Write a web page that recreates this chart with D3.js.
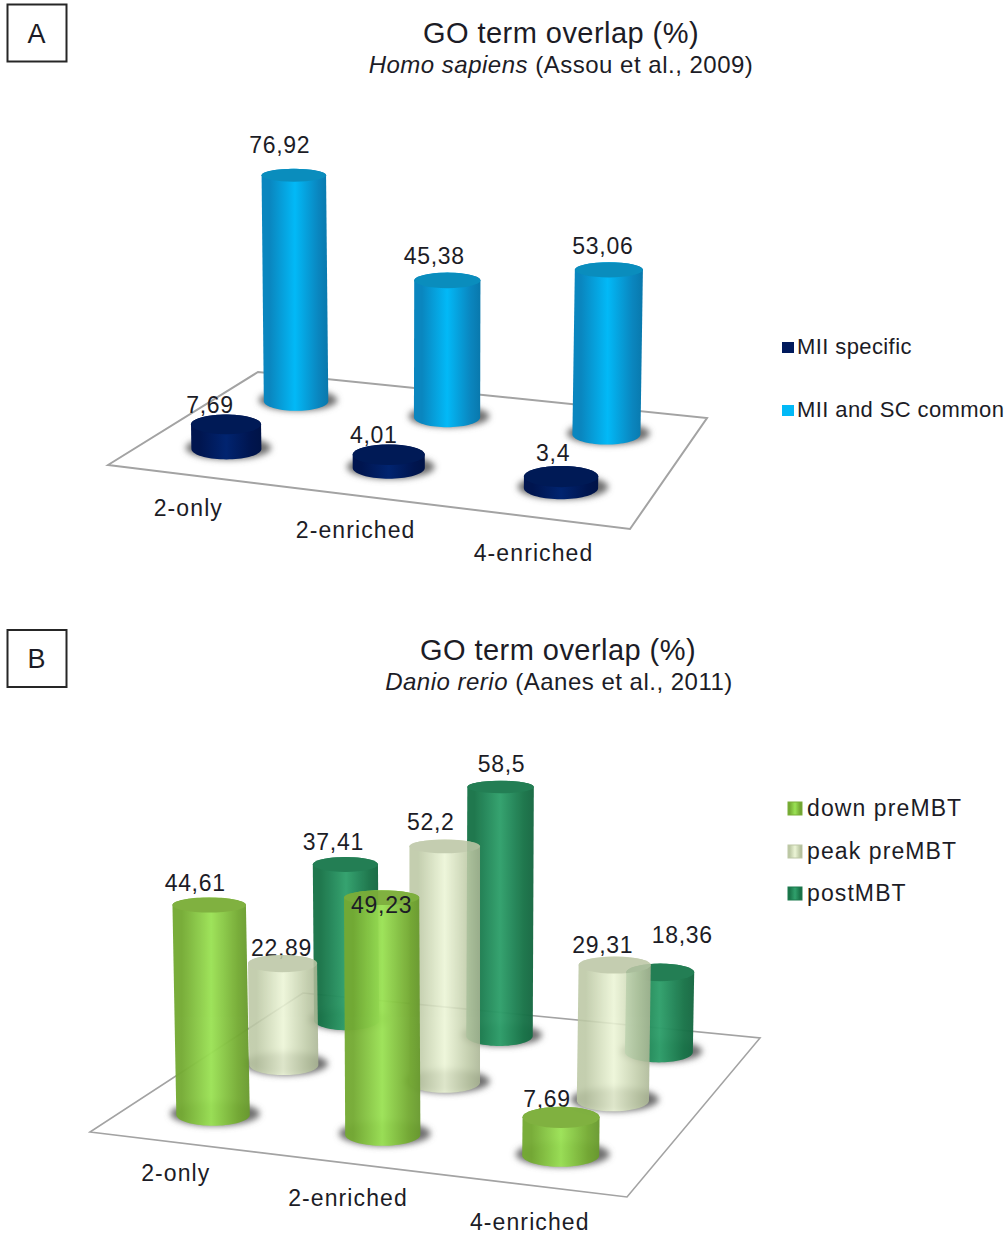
<!DOCTYPE html>
<html>
<head>
<meta charset="utf-8">
<script src="https://cdn.jsdelivr.net/npm/d3@7"></script>
<style>
  html, body { margin: 0; padding: 0; background: #fff; }
  svg { display: block; }
  text { font-family: "Liberation Sans", Arial, sans-serif; fill: #1c1c26; }
</style>
</head>
<body>
<svg id="fig" width="1006" height="1234"></svg>
<script>
// Chart data
const categories = ["2-only", "2-enriched", "4-enriched"];

const seriesHuman = ["MII specific", "MII and SC common"];
const miiSpecific = [7.69, 4.01, 3.4];
const miiScCommon = [76.92, 45.38, 53.06];

const seriesZebrafish = ["down preMBT", "peak preMBT", "postMBT"];
const downPreMBT = [44.61, 49.23, 7.69];
const peakPreMBT = [22.89, 52.2, 29.31];
const postMBT = [37.41, 58.5, 18.36];

const comma = v => String(v).replace(".", ",");

const svg = d3.select("#fig");
const defs = svg.append("defs");
defs.append("filter").attr("id", "soft")
  .attr("x", "-30%").attr("y", "-60%").attr("width", "160%").attr("height", "220%")
  .append("feGaussianBlur").attr("stdDeviation", 3);

// Colour ramps per series: side edge, side centre, cap
const paints = {
  navy:  { id: "gNavy",  edge: "#00154f", mid: "#012470", cap: "#001a56", opacity: 1 },
  sky:   { id: "gSky",   edge: "#0a86bf", mid: "#02b9f7", cap: "#0a8dbd", opacity: 1 },
  lime:  { id: "gLime",  edge: "#74aa33", mid: "#9be255", cap: "#7bae39", opacity: 0.96 },
  pale:  { id: "gPale",  edge: "#bcc8a4", mid: "#ecf5d6", cap: "#bdc7a6", opacity: 0.88 },
  moss:  { id: "gMoss",  edge: "#197449", mid: "#30a06c", cap: "#1c7a4f", opacity: 0.97 }
};
Object.values(paints).forEach(p => {
  const g = defs.append("linearGradient").attr("id", p.id);
  [[0, p.edge], [0.12, p.edge], [0.5, p.mid], [0.85, p.edge], [1, d3.color(p.edge).darker(0.3)]]
    .forEach(([o, c]) => g.append("stop").attr("offset", o).attr("stop-color", c));
});

// Perspective map from the unit floor square (u along categories, v in depth) to the page
function floorProjection([p0, p1, p2, p3]) {
  const dx1 = p1[0] - p2[0], dx2 = p3[0] - p2[0], sx = p0[0] - p1[0] + p2[0] - p3[0];
  const dy1 = p1[1] - p2[1], dy2 = p3[1] - p2[1], sy = p0[1] - p1[1] + p2[1] - p3[1];
  const den = dx1 * dy2 - dx2 * dy1;
  const g = (sx * dy2 - dx2 * sy) / den, h = (dx1 * sy - sx * dy1) / den;
  const a = p1[0] - p0[0] + g * p1[0], b = p3[0] - p0[0] + h * p3[0];
  const d = p1[1] - p0[1] + g * p1[1], e = p3[1] - p0[1] + h * p3[1];
  return (u, v) => {
    const w = g * u + h * v + 1;
    return { x: (a * u + b * v + p0[0]) / w, y: (d * u + e * v + p0[1]) / w, w };
  };
}

function drawPanel(cfg) {
  const root = svg.append("g");
  const project = floorProjection(cfg.floor);
  const uScale = d3.scalePoint().domain(categories).range(cfg.uRange).padding(0.5);
  const vScale = d3.scalePoint().domain(cfg.series.map(s => s.name)).range(cfg.vRange).padding(0.5);
  const heightScale = d3.scaleLinear().domain([0, 100]).range([0, cfg.pxPer100]);
  const radiusScale = d3.scaleLinear().domain([0, 1]).range([0, cfg.radius]);
  const centre = project(0.5, 0.5);

  // Panel letter box and titles
  root.append("rect").attr("x", 7.5).attr("y", cfg.boxY).attr("width", 59).attr("height", 57)
    .attr("fill", "#fff").attr("stroke", "#262626").attr("stroke-width", 2);
  root.append("text").attr("x", 36.5).attr("y", cfg.boxY + 38).attr("text-anchor", "middle")
    .attr("font-size", 27).text(cfg.letter);
  root.append("text").attr("x", cfg.titleX).attr("y", cfg.titleY).attr("text-anchor", "middle")
    .attr("font-size", 29).style("letter-spacing", "0.45px").text("GO term overlap (%)");
  const sub = root.append("text").attr("x", cfg.subX).attr("y", cfg.titleY + 30)
    .attr("text-anchor", "middle").attr("font-size", 24).style("letter-spacing", "0.5px");
  sub.append("tspan").attr("font-style", "italic").text(cfg.species);
  sub.append("tspan").text(" " + cfg.source);

  // Floor
  root.append("path")
    .attr("d", d3.line()(cfg.floor) + "Z")
    .attr("fill", "none").attr("stroke", "#a3a3a3").attr("stroke-width", cfg.floorWidth);

  // Category labels
  root.selectAll(".cat").data(categories).join("text").attr("class", "cat")
    .attr("text-anchor", "middle").attr("font-size", 23).style("letter-spacing", "1.1px")
    .attr("x", (c, i) => project(uScale(c), -0.25).x + cfg.catNudge[i][0])
    .attr("y", (c, i) => project(uScale(c), -0.25).y + cfg.catNudge[i][1])
    .text(c => c);

  // One record per cylinder, back row first so the nearer ones overlap it
  const bars = [];
  cfg.series.slice().reverse().forEach(s => {
    categories.forEach((c, i) => {
      const base = project(uScale(c), vScale(s.name));
      bars.push({ s, i, value: s.values[i], base, nudge: s.labelNudge[i] });
    });
  });

  const label = (parent, d, top) => parent.append("text")
    .attr("x", top.x + d.nudge[0]).attr("y", top.y + d.nudge[1] + 8)
    .attr("text-anchor", "middle").attr("font-size", 23).style("letter-spacing", "0.7px")
    .text(comma(d.value));

  const overlays = [];
  bars.forEach(d => {
    const rx = radiusScale(1 / d.base.w);
    const h = heightScale(d.value) / d.base.w;
    const ryB = rx * 0.3;
    const ryT = rx * (0.29 - 0.0004 * h);
    const bx = d.base.x, by = d.base.y;
    const tx = bx + (bx - centre.x) * h * 0.00008, ty = by - h;

    root.append("ellipse").attr("cx", bx + 2).attr("cy", by - 1)
      .attr("rx", rx * 1.22).attr("ry", ryB * 1.1)
      .attr("fill", "#6f6f6f").attr("filter", "url(#soft)");

    if (d.nudge[1] > 0) overlays.push([d, { x: tx, y: ty }]);
    else label(root, d, { x: tx, y: ty });

    const p = paints[d.s.paint];
    const g = root.append("g").attr("opacity", p.opacity);
    const pth = d3.path();
    pth.moveTo(tx - rx, ty);
    pth.lineTo(bx - rx, by);
    const steps = d3.range(0, 37).map(k => Math.PI - k * Math.PI / 36);
    steps.forEach(a => pth.lineTo(bx + rx * Math.cos(a), by + ryB * Math.sin(a)));
    pth.lineTo(tx + rx, ty);
    steps.slice().reverse().forEach(a => pth.lineTo(tx + rx * Math.cos(a), ty - ryT * Math.sin(a)));
    pth.closePath();
    g.append("path").attr("d", pth.toString()).attr("fill", `url(#${p.id})`);
    g.append("ellipse").attr("cx", tx).attr("cy", ty).attr("rx", rx).attr("ry", ryT)
      .attr("fill", p.cap);
  });
  overlays.forEach(([d, top]) => label(root, d, top));

  // Legend
  cfg.series.forEach((s, i) => {
    const [kx, ky] = cfg.legend[i];
    const p = paints[s.paint];
    root.append("rect").attr("x", kx).attr("y", ky - cfg.keySize + 1)
      .attr("width", cfg.keySize).attr("height", cfg.keySize - 1)
      .attr("fill", cfg.keyGradient ? `url(#${p.id})` : p.mid === "#012470" ? "#001a5c" : p.mid)
      .attr("stroke", cfg.keyGradient ? p.cap : "none");
    root.append("text").attr("x", cfg.legendTextX).attr("y", ky + 1)
      .attr("font-size", cfg.legendSize).style("letter-spacing", cfg.legendSpacing).text(s.name);
  });
}

drawPanel({
  letter: "A", boxY: 4.5, titleX: 561, titleY: 43, subX: 561,
  species: "Homo sapiens", source: "(Assou et al., 2009)",
  floor: [[108, 465], [630, 529], [707, 418], [258, 372]],
  floorWidth: 2,
  uRange: [0, 1], vRange: [-0.01, 0.99],
  pxPer100: 328, radius: 36,
  catNudge: [[43, 12], [35, 11], [26, 10]],
  series: [
    { name: seriesHuman[0], values: miiSpecific, paint: "navy",
      labelNudge: [[-16, -19], [-15, -20], [-8, -24]] },
    { name: seriesHuman[1], values: miiScCommon, paint: "sky",
      labelNudge: [[-14, -30], [-13, -24], [-6, -24]] }
  ],
  legend: [[782, 353], [782, 416]], keySize: 12, keyGradient: false,
  legendTextX: 797, legendSize: 22, legendSpacing: "0.4px"
});

drawPanel({
  letter: "B", boxY: 630, titleX: 558, titleY: 660, subX: 559,
  species: "Danio rerio", source: "(Aanes et al., 2011)",
  floor: [[90, 1132], [627, 1197], [760, 1038], [303, 993]],
  floorWidth: 1.6,
  uRange: [0, 1], vRange: [0, 1],
  pxPer100: 480, radius: 37.5,
  catNudge: [[65, -6], [55, -4], [45, -5]],
  series: [
    { name: seriesZebrafish[0], values: downPreMBT, paint: "lime",
      labelNudge: [[-14, -22], [0, 7], [-14, -18]] },
    { name: seriesZebrafish[1], values: peakPreMBT, paint: "pale",
      labelNudge: [[-1, -16], [-14, -24], [-12, -20]] },
    { name: seriesZebrafish[2], values: postMBT, paint: "moss",
      labelNudge: [[-12, -22], [1, -23], [22, -37]] }
  ],
  legend: [[788, 815], [788, 858], [788, 900]], keySize: 14, keyGradient: true,
  legendTextX: 807, legendSize: 23, legendSpacing: "1.1px"
});
</script>
</body>
</html>
